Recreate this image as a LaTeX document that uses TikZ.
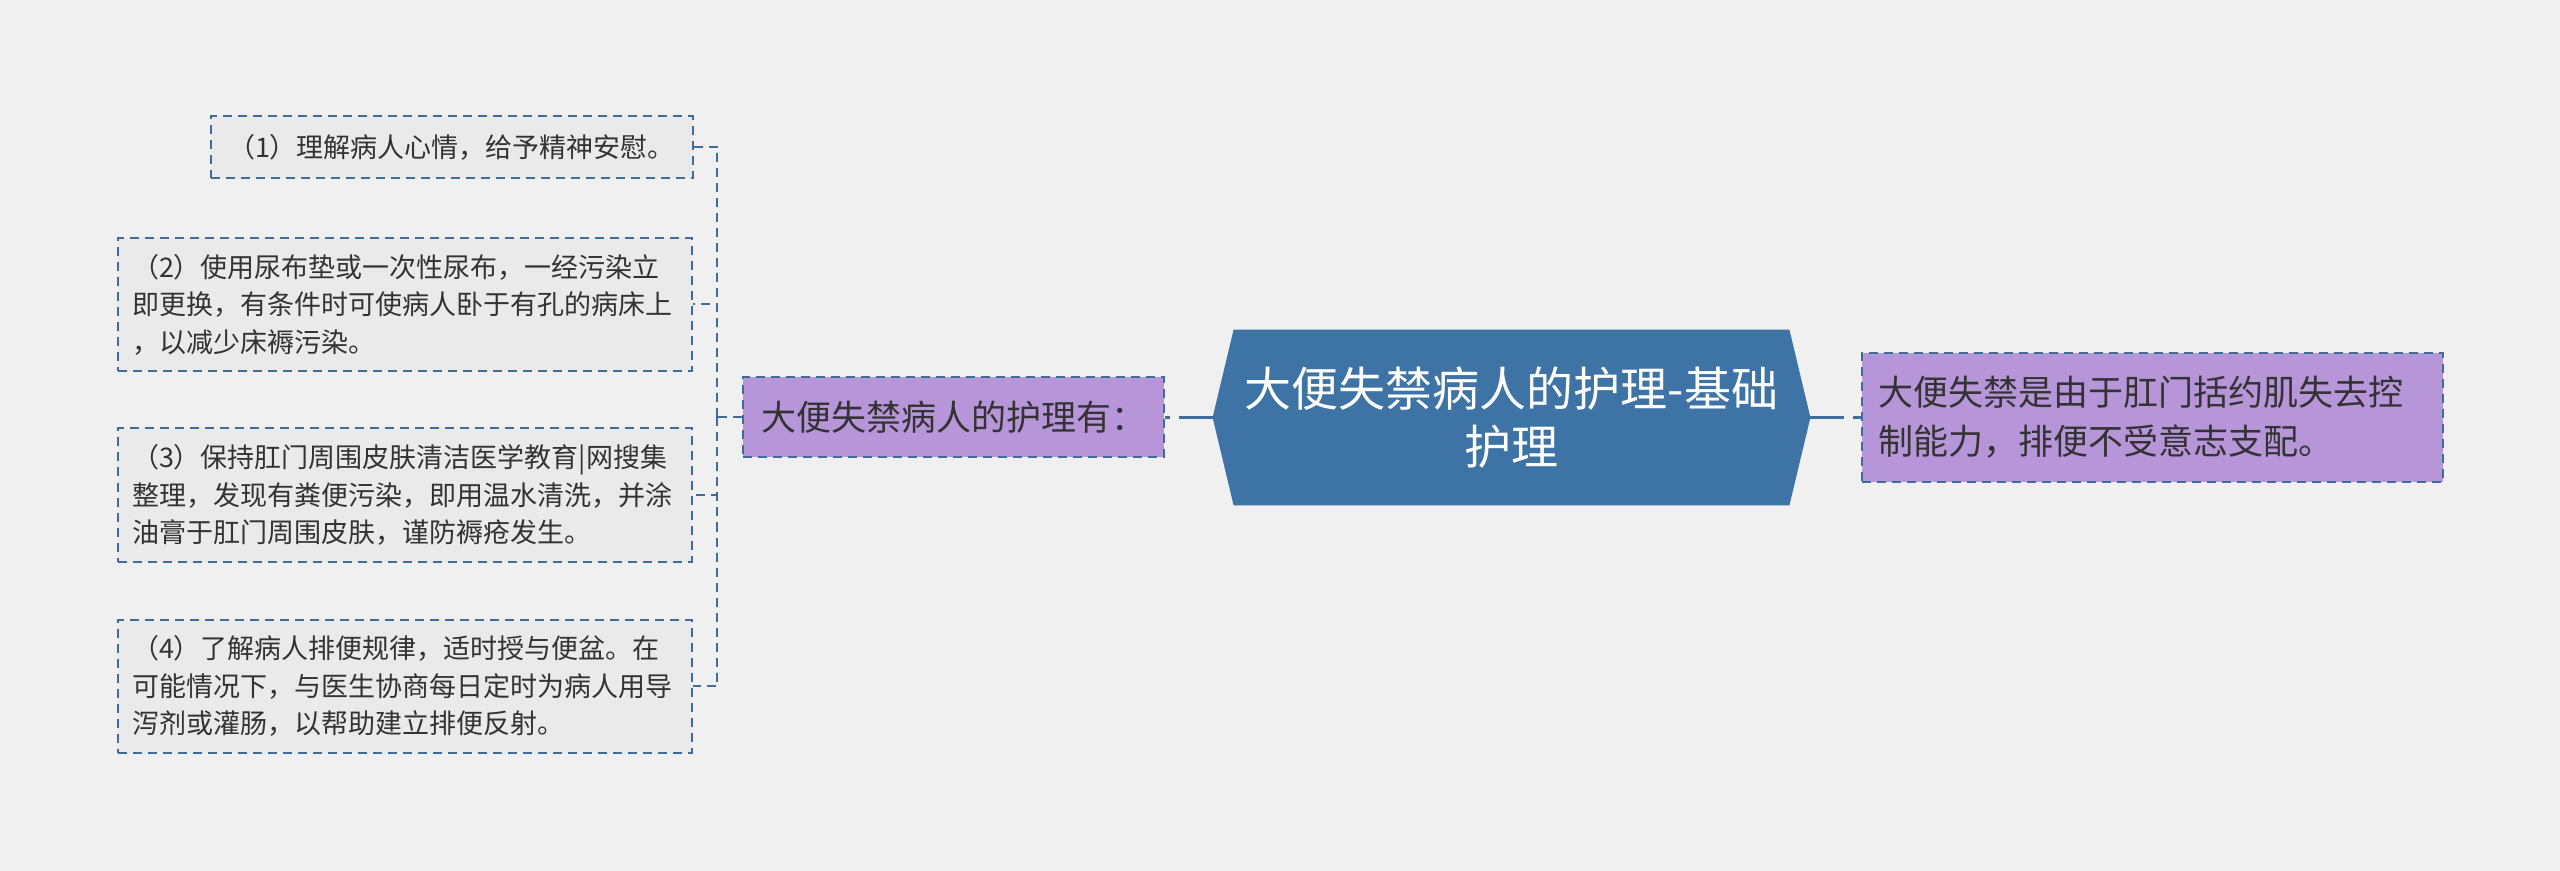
\documentclass[tikz,border=0pt]{standalone}
\usepackage{fontspec}
\setmainfont{Noto Sans CJK SC}
\usepackage{tikz}
\usetikzlibrary{backgrounds}

\definecolor{bggray}{HTML}{F0F0F0}
\definecolor{boxgray}{HTML}{EAEAEA}
\definecolor{lineblue}{HTML}{3D6D9C}
\definecolor{hexblue}{HTML}{3D73A5}
\definecolor{lilac}{HTML}{B795D9}
\definecolor{inkgray}{HTML}{333333}

\tikzset{
	dashline/.style={draw=lineblue, line width=1pt, dash pattern=on 4.5pt off 3pt},
	item/.style={dashline, fill=boxgray, text=inkgray, font=\fontsize{13.5pt}{18.8pt}\selectfont,
		inner xsep=7pt, inner ysep=4pt},
	itemtext/.style={item, align=left, text width=273pt, minimum height=66.5pt},
	topic/.style={dashline, fill=lilac, text=inkgray, font=\fontsize{17.5pt}{24.5pt}\selectfont},
	rootnode/.style={text=white, align=center, font=\fontsize{23.5pt}{29pt}\selectfont,
		minimum width=298.5pt, minimum height=87.5pt, inner sep=0pt},
	link/.style={dashline},
	rootlink/.style={draw=lineblue, line width=1.5pt, dash pattern=on 17pt off 4.5pt}
}

\begin{document}
\begin{tikzpicture}[x=0.5pt, y=-0.5pt]

	\useasboundingbox (0, 0) rectangle (2560, 871);

	\node[rootnode] (root) at (1511.5, 417.5) {大便失禁病人的护理-基础\\护理};

	\node[topic, minimum width=210.5pt, minimum height=40pt] (care) at (953.5, 417.5) {大便失禁病人的护理有：};
	\node[topic, align=left, text width=274.5pt, inner xsep=8pt, minimum height=64.5pt] (cause) at (2152.5, 417.5)
		{大便失禁是由于肛门括约肌失去控\\制能力，排便不受意志支配。};

	\node[item, align=center, minimum width=241pt, minimum height=31pt] (step1) at (451.5, 147) {（1）理解病人心情，给予精神安慰。};
	\node[itemtext] (step2) at (405, 304.5) {（2）使用尿布垫或一次性尿布，一经污染立\\即更换，有条件时可使病人卧于有孔的病床上\\，以减少床褥污染。};
	\node[itemtext] (step3) at (405, 495) {（3）保持肛门周围皮肤清洁医学教育|网搜集\\整理，发现有粪便污染，即用温水清洗，并涂\\油膏于肛门周围皮肤，谨防褥疮发生。};
	\node[itemtext] (step4) at (405, 686) {（4）了解病人排便规律，适时授与便盆。在\\可能情况下，与医生协商每日定时为病人用导\\泻剂或灌肠，以帮助建立排便反射。};

	\coordinate (fork) at (717, 417.5);

	\begin{scope}[on background layer]
		\fill[bggray] (0, 0) rectangle (2560, 871);
		\fill[hexblue] ([xshift=10.5pt]root.north west) -- ([xshift=-10.5pt]root.north east) -- (root.east)
			-- ([xshift=-10.5pt]root.south east) -- ([xshift=10.5pt]root.south west) -- (root.west) -- cycle;
	\end{scope}

	\path[rootlink] (root) edge (care);
	\path[rootlink] (root) edge (cause);

	\path[link] (care.west) edge (fork);
	\path[link] (fork) edge[to path={|- (\tikztotarget)}] (step1.east);
	\path[link] (fork) edge[to path={|- (\tikztotarget)}] (step2.east);
	\path[link] (fork) edge[to path={|- (\tikztotarget)}] (step3.east);
	\path[link] (fork) edge[to path={|- (\tikztotarget)}] (step4.east);

\end{tikzpicture}
\end{document}
